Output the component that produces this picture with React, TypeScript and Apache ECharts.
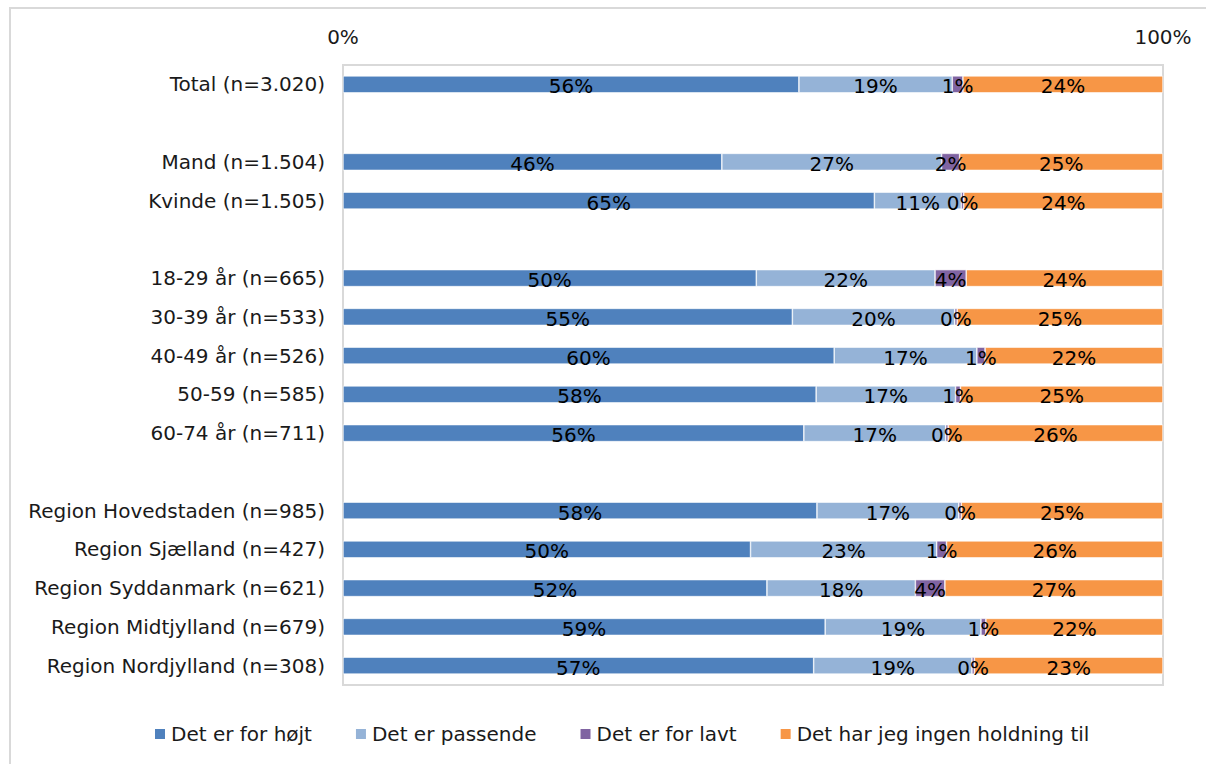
import React, { useEffect, useRef } from "react";
import * as echarts from "echarts";

const categories = [
  "Total (n=3.020)",
  " ",
  "Mand (n=1.504)",
  "Kvinde (n=1.505)",
  "  ",
  "18-29 år (n=665)",
  "30-39 år (n=533)",
  "40-49 år (n=526)",
  "50-59 (n=585)",
  "60-74 år (n=711)",
  "   ",
  "Region Hovedstaden (n=985)",
  "Region Sjælland (n=427)",
  "Region Syddanmark (n=621)",
  "Region Midtjylland (n=679)",
  "Region Nordjylland (n=308)",
];

const seriesNames = [
  "Det er for højt",
  "Det er passende",
  "Det er for lavt",
  "Det har jeg ingen holdning til",
];

const forHoejt = [55.6, null, 46.2, 64.8, null, 50.4, 54.8, 59.9, 57.7, 56.2, null, 57.8, 49.7, 51.7, 58.8, 57.4];
const passende = [18.7, null, 26.8, 10.6, null, 21.8, 19.8, 17.4, 17.0, 17.3, null, 17.3, 22.7, 18.1, 19.0, 19.3];
const forLavt = [1.3, null, 2.2, 0.3, null, 3.8, 0.3, 1.0, 0.6, 0.3, null, 0.3, 1.2, 3.6, 0.6, 0.3];
const ingenHoldning = [24.4, null, 24.8, 24.3, null, 24.0, 25.1, 21.7, 24.7, 26.2, null, 24.6, 26.4, 26.6, 21.6, 23.0];

const xTicks = [0, 100];

const colors = ["#4F81BD", "#95B3D7", "#8064A2", "#F79646"];
const FONT = "'DejaVu Sans', sans-serif";
const FS = 20;

export default function App() {
  const ref = useRef<HTMLDivElement>(null);

  useEffect(() => {
    document.body.style.margin = "0";
    if (!ref.current) return;
    const chart = echarts.init(ref.current, undefined, { renderer: "svg" });
    const allData = [forHoejt, passende, forLavt, ingenHoldning];
    chart.setOption({
      animation: false,
      color: colors,
      textStyle: { fontFamily: FONT },
      grid: {
        left: 343,
        right: 43,
        top: 65,
        bottom: 79,
        show: true,
        borderColor: "#d9d9d9",
        borderWidth: 2,
        backgroundColor: "transparent",
      },
      graphic: [
        {
          type: "rect",
          shape: { x: 10, y: 8, width: 1260, height: 820 },
          style: { fill: "none", stroke: "#d9d9d9", lineWidth: 2 },
          silent: true,
          z: -10,
        },
      ],
      legend: {
        data: seriesNames,
        bottom: 15,
        left: 148,
        itemWidth: 12,
        itemHeight: 12,
        itemGap: 42,
        icon: "rect",
        textStyle: { fontSize: FS, color: "#1a1a1a", fontFamily: FONT },
      },
      xAxis: {
        type: "value",
        position: "top",
        min: xTicks[0],
        max: xTicks[xTicks.length - 1],
        interval: xTicks[1] - xTicks[0],
        axisLine: { show: false },
        axisTick: { show: false },
        splitLine: { show: false },
        axisLabel: {
          formatter: "{value}%",
          fontSize: FS,
          color: "#1a1a1a",
          margin: 18,
          fontFamily: FONT,
        },
      },
      yAxis: {
        type: "category",
        inverse: true,
        data: categories,
        axisLine: { show: false },
        axisTick: { show: false },
        axisLabel: {
          fontSize: FS,
          color: "#1a1a1a",
          margin: 18,
          fontFamily: FONT,
        },
      },
      series: seriesNames.map((name, i) => ({
        name,
        type: "bar",
        stack: "total",
        barWidth: 17,
        data: allData[i],
        itemStyle: { color: colors[i], borderColor: "#ffffff", borderWidth: 0.6 },
        label: {
          show: true,
          position: "inside",
          color: "#000",
          fontSize: FS,
          fontFamily: FONT,
          offset: [0, 2],
          formatter: (p: any) =>
            p.value == null ? "" : Math.round(p.value) + "%",
        },
      })),
    });
    return () => chart.dispose();
  }, []);

  return <div ref={ref} style={{ width: 1206, height: 764 }} />;
}
